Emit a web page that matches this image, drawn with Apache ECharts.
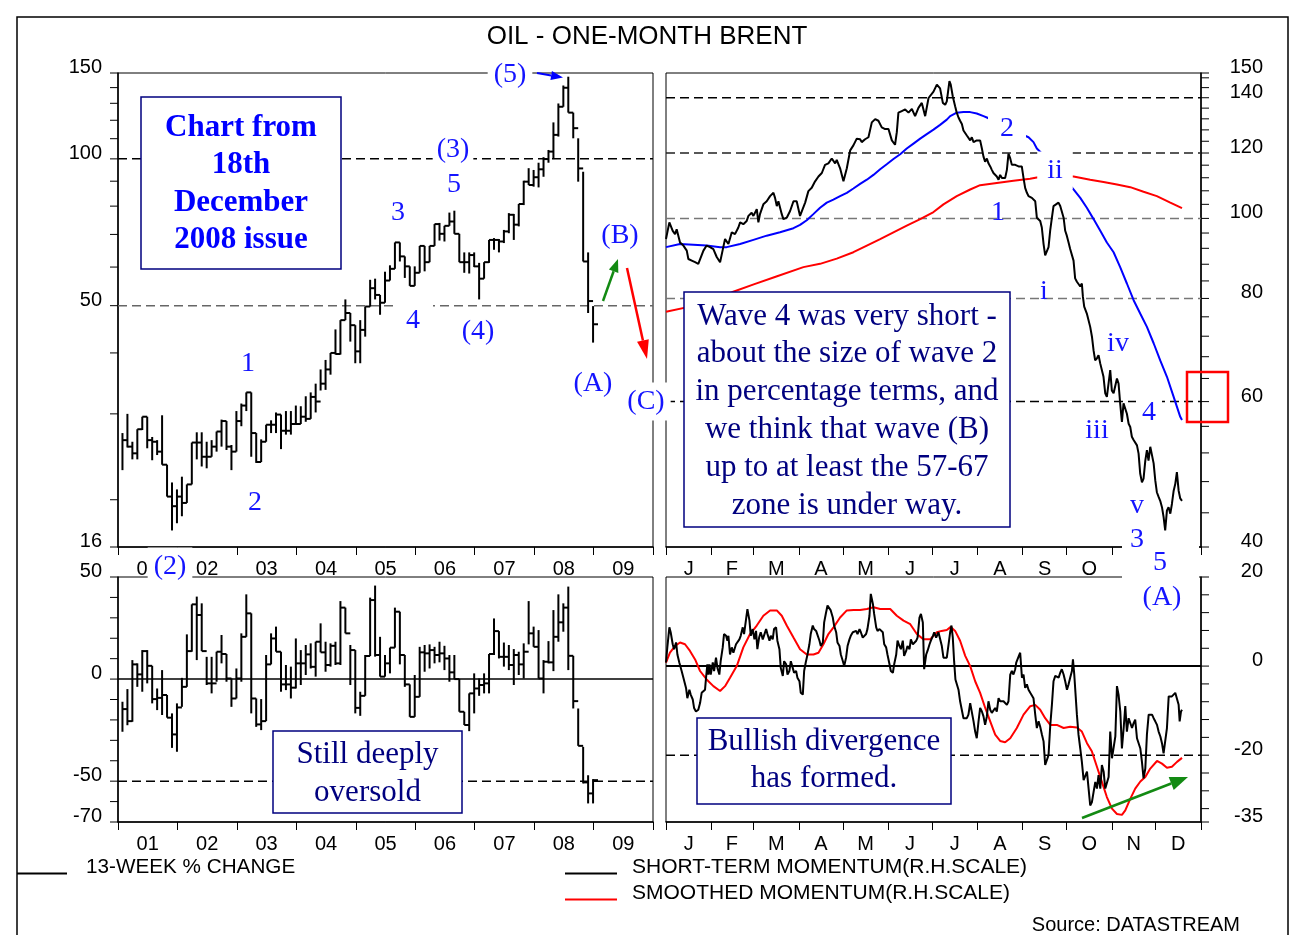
<!DOCTYPE html>
<html>
<head>
<meta charset="utf-8">
<script src="https://cdn.jsdelivr.net/npm/echarts@6.0.0/dist/echarts.min.js"></script>
<style>
html,body{margin:0;padding:0;background:#fff;}
#c{width:1297px;height:935px;}
</style>
</head>
<body>
<div id="c"></div>
<script>
// ---------------- DATA ----------------
const yearLabels = ['01','02','03','04','05','06','07','08','09'];
const yearTickPos = [0,12,24,36,48,60,72,84,96,108];
const yearLabelPos = [6,18,30,42,54,66,78,90,102];
const monthLabels = ['J','F','M','A','M','J','J','A','S','O','N','D'];
const monthTickPos = [0,31,60,91,121,152,182,213,244,274,305,335,366];
const monthLabelPos = [15.5,45,75.5,106,136.5,167,197.5,228.5,259,289.5,320,350.5];

// Monthly Brent bars, Jan 2001 - Dec 2008 (high, low, close)
const tlHigh = [27.4,30.0,26.3,27.9,29.6,29.6,26.9,26.5,29.8,23.6,21.7,21.0,
  22.3,21.5,26.2,27.5,27.5,26.3,26.5,27.6,29.2,29.0,25.9,30.4,
  31.5,33.2,33.2,27.4,26.6,28.5,29.1,30.2,29.9,30.4,30.4,31.2,
  31.1,32.6,33.2,34.6,37.0,38.7,40.0,44.7,46.7,51.5,48.3,45.6,
  46.7,49.8,56.5,56.8,52.6,58.7,60.5,67.4,67.4,63.1,60.2,60.2,
  66.3,66.3,66.3,73.5,73.9,72.9,77.6,78.3,70.2,64.3,64.3,64.3,
  61.2,61.4,68.2,68.8,68.5,71.5,77.4,77.1,80.8,90.2,95.7,94.9,
  98.2,100.8,104.3,118.8,129.9,141.4,147.4,124.4,110.2,94.1,64.3,49.9];
const tlLow = [23.0,25.6,24.2,24.2,27.8,25.5,24.1,24.7,23.6,20.3,17.3,17.9,
  18.5,19.7,21.5,24.2,23.4,23.2,24.5,25.1,25.7,25.3,23.0,25.1,
  28.3,30.4,24.5,23.8,23.9,26.3,27.4,27.4,25.4,27.2,27.2,28.5,
  28.6,28.9,29.3,30.2,33.5,33.6,36.1,39.7,39.7,46.7,42.2,38.1,
  38.1,43.2,49.8,51.5,47.9,50.7,56.3,59.5,61.6,57.0,54.9,54.9,
  58.4,58.8,61.4,66.3,68.0,67.7,72.9,70.2,61.4,58.4,58.2,60.0,
  51.5,56.8,61.2,65.1,64.3,67.2,70.4,68.2,72.7,80.4,88.4,87.7,
  87.4,91.9,98.2,99.9,111.1,127.9,124.4,110.2,89.8,61.6,48.3,42.0];
const tlClose = [26.5,25.7,24.9,27.9,29.6,26.5,26.3,25.1,23.6,20.3,19.4,20.3,
  19.7,21.5,26.2,26.2,24.5,24.5,25.7,27.6,29.0,25.7,25.1,29.0,
  31.2,33.2,27.4,23.9,26.3,28.5,28.5,29.9,27.7,27.7,28.6,28.6,
  29.6,29.3,32.5,31.8,34.6,37.0,40.0,39.8,46.7,48.3,45.6,40.3,
  44.6,49.8,54.3,52.6,50.7,56.3,59.5,67.4,63.1,60.2,54.9,58.4,
  66.3,61.4,66.3,73.5,70.2,72.9,74.4,70.2,61.4,61.4,63.5,60.2,
  56.8,61.4,68.2,68.2,67.7,71.0,76.8,73.3,80.8,89.8,88.4,91.7,
  95.2,99.9,103.5,112.0,127.9,139.9,124.4,115.6,95.6,61.6,51.1,45.8];

// 13-week % change, monthly bars (high, low, close)
const chgHigh = [-11.1,-4.9,9.3,7.7,14.2,14.2,6.5,-4.6,4.4,-7.8,-16.8,-11.9,
  0.6,21.9,36.6,40.4,37.1,10.9,10.9,13.4,21.6,12.3,0.3,5.2,
  22.4,41.5,32.2,-9.5,-9.8,11.8,22.4,25.7,13.4,6.9,6.1,19.9,
  14.2,16.7,17.5,18.3,27.3,18.3,17.5,18.3,38.2,35.0,16.7,14.2,
  -6.2,11.8,39.9,45.8,20.7,11.8,15.4,35.0,33.0,11.8,-2.6,2.0,
  15.8,16.7,17.0,15.8,18.3,16.3,11.8,11.8,0.0,-16.0,-7.0,2.8,
  0.3,2.8,12.3,29.7,23.5,17.9,16.7,14.7,13.4,17.5,38.2,25.7,
  24.0,9.3,18.6,33.8,41.5,37.1,45.3,11.4,-14.4,-33.2,-47.1,-49.0];
const chgLow = [-25.8,-22.6,-20.9,-3.8,-6.2,-2.1,-11.9,-15.2,-17.6,-18.9,-33.7,-35.6,
  -13.6,-3.8,13.4,9.3,13.7,-2.9,-7.0,-1.3,7.7,-1.3,-13.6,-9.5,
  -1.3,20.7,-16.8,-23.4,-25.0,-20.6,7.2,13.4,-6.2,-5.4,-9.5,-4.6,
  -2.9,2.0,5.2,1.2,13.1,3.6,6.1,6.9,6.9,22.4,-2.9,-16.8,
  -18.0,-8.2,11.3,11.0,1.2,1.2,2.8,15.4,7.2,-3.8,-18.5,-18.5,
  -8.7,3.6,5.2,7.7,8.2,4.4,-1.3,0.0,-16.0,-22.5,-25.5,-16.8,
  -8.2,-7.0,-7.0,11.8,10.1,6.1,4.4,-2.9,2.0,0.3,17.0,15.8,
  0.3,-7.0,7.7,3.9,18.3,23.2,4.4,-14.4,-32.7,-51.1,-60.9,-60.9];
const chgClose = [-14.7,-20.6,7.2,2.3,13.7,6.5,-9.8,-9.2,-7.8,-18.9,-27.1,-13.9,
  -3.8,13.7,36.6,31.4,13.7,-2.1,-2.1,13.4,12.3,0.3,-9.5,0.3,
  20.7,32.2,-9.5,-22.2,-20.6,7.2,19.9,13.4,-2.6,-2.6,-4.2,7.7,
  7.7,12.1,6.0,18.3,13.1,6.9,16.3,7.7,35.0,22.4,14.2,-14.1,
  -8.2,11.3,38.7,11.8,1.2,7.7,15.4,33.0,11.8,-2.6,-18.5,-8.7,
  13.1,12.6,14.2,11.8,12.6,10.1,3.3,0.0,-16.0,-22.5,-7.0,-4.6,
  -2.9,-2.1,12.3,23.5,10.9,10.9,6.9,11.8,7.2,13.4,22.4,15.8,
  0.3,8.5,8.2,20.7,27.8,35.0,11.4,-10.8,-32.7,-50.6,-56.0,-49.5];

// 2008 daily Brent (day of year, price)
const trDay = [0,2.3,4.6,6.2,7.3,9.6,11.9,14.2,15.3,17.6,19.9,22.1,23.3,25.6,27.8,30.1,32.4,34.7,37.0,39.2,40.4,42.7,45.0,47.2,49.5,50.7,52.9,55.2,56.4,58.6,59.8,62.1,63.2,64.3,66.6,68.9,71.2,73.5,74.6,75.8,76.9,79.2,80.3,82.6,84.9,87.2,89.4,91.7,92.9,95.2,97.4,99.7,102.0,104.3,106.6,108.8,111.1,113.4,115.7,116.8,119.1,121.4,122.5,123.7,126.0,128.2,130.5,132.8,133.9,136.2,138.5,140.8,143.1,145.3,147.6,149.9,152.2,154.5,156.7,157.9,159.0,161.3,163.6,165.9,168.2,170.4,172.7,175.0,177.3,179.6,
  180.7,183.0,185.3,187.5,189.4,191.0,192.1,193.9,194.8,196.2,197.8,198.9,200.1,201.2,202.4,203.5,204.7,205.8,206.9,208.1,209.2,210.4,211.5,212.6,213.8,214.9,216.1,217.2,218.3,219.5,220.6,221.8,222.9,224.0,225.2,226.3,227.5,228.6,229.8,230.9,232.0,233.2,234.3,235.5,236.6,238.9,241.2,242.3,243.4,244.6,245.7,246.9,248.0,250.3,252.6,253.7,254.9,256.0,257.1,258.3,259.4,260.6,261.7,262.8,264.0,265.1,266.3,268.5,269.7,270.8,272.0,273.1,274.2,275.4,276.5,277.7,278.8,279.9,281.1,282.2,283.4,284.5,285.2,286.1,287.9,289.1,290.2,291.4,292.5,293.6,294.8,295.9,297.1,298.2,299.3,300.5,301.6,302.8,303.9,305.0,306.2,307.3,308.5,309.6,310.7,311.9,313.0,314.2,315.3,316.5,317.6,318.7,319.9,322.2,323.3,324.4,325.6,326.7,327.9,329.0,330.1,331.3,332.4,333.6,334.7,335.8,337.0,338.1,339.3,340.4,341.5,342.7,343.8,345.0,346.1,347.3,348.4,349.5,350.7,351.8,353.0];
const trPrice = [94.4,98.9,96.6,95.7,97.0,93.5,92.7,91.4,89.3,88.9,88.5,88.1,88.1,91.4,92.7,92.3,91.8,89.8,88.5,92.3,94.4,93.1,96.2,95.7,97.5,98.9,98.4,99.3,100.7,101.6,100.7,102.6,98.9,101.2,104.0,104.9,106.4,107.4,105.9,103.5,104.9,101.2,99.8,100.2,102.1,104.9,104.9,100.7,101.2,104.5,107.9,108.9,110.9,112.4,113.5,116.1,116.6,118.2,116.6,117.7,115.0,110.9,110.4,115.0,120.9,122.6,124.9,124.7,123.7,124.7,125.4,130.7,131.9,131.3,128.9,128.3,128.3,124.3,122.8,127.2,134.3,134.9,135.5,134.3,135.7,133.0,136.1,138.0,133.0,139.9,
  140.5,142.4,145.2,143.7,138.0,137.3,138.6,146.6,145.2,140.5,136.7,134.3,132.5,131.3,130.1,127.8,127.2,126.0,126.6,124.3,125.4,123.7,123.2,124.3,124.9,124.3,121.5,118.8,117.1,118.2,116.6,115.6,114.5,113.5,114.0,112.4,111.4,112.9,111.9,112.4,111.9,114.5,119.8,118.2,116.1,116.1,115.6,116.1,115.6,111.9,108.9,107.4,106.4,105.9,104.9,100.2,100.2,99.3,97.5,93.1,90.2,90.2,92.3,96.6,100.2,103.5,104.0,104.5,103.5,103.0,100.2,96.6,95.3,93.5,91.8,91.4,88.9,84.6,83.8,83.4,82.7,83.4,80.4,78.2,76.7,76.7,73.9,71.9,69.2,67.3,67.7,68.3,66.7,66.4,64.3,61.4,60.8,61.1,65.5,61.9,61.4,61.4,64.0,63.1,59.7,56.7,59.7,59.4,58.0,56.4,55.9,54.4,53.9,53.1,51.9,49.1,47.9,48.4,50.9,52.4,50.9,52.9,52.9,50.5,48.2,46.6,46.0,45.5,44.7,43.5,41.9,44.3,44.7,43.9,45.1,46.8,47.7,49.3,46.8,45.8,45.5];

// Shorter moving average (blue)
const maFastDay = [0,9.6,18.7,27.8,37.0,41.5,50.7,59.8,68.9,78.0,87.2,91.7,96.3,100.8,105.4,110.0,114.5,119.1,123.7,128.2,132.8,137.4,141.9,146.5,151.0,155.6,160.2,164.7,169.3,173.9,178.4,183.0,187.5,192.1,194.4,198.9,203.5,208.1,212.6,217.2,219.5,226.3,233.2,240.0,248.0,251.4,253.7,260.6,267.4,274.2,278.8,283.4,287.9,292.5,297.1,301.6,306.2,310.7,315.3,319.9,324.4,329.0,333.6,338.1,342.7,347.3,351.8,353.0];
const maFast = [92.3,93.1,92.9,92.7,92.3,92.3,93.1,94.2,95.3,96.2,97.3,98.2,99.5,101.2,103.0,104.5,105.4,106.4,107.4,108.7,110.1,111.4,112.9,114.7,116.3,118.0,119.6,121.5,123.2,124.9,126.5,128.1,129.8,131.7,133.0,134.3,134.5,134.5,134.0,133.0,132.5,130.7,128.9,127.2,125.4,123.7,121.5,118.2,114.5,110.9,108.4,105.9,103.0,99.8,96.6,93.5,91.0,87.3,83.4,79.6,76.7,73.9,70.6,67.3,64.3,60.8,57.5,57.0];

// Longer moving average (red)
const maSlowDay = [0,18,30,46,60,75,94,105.4,116.8,128.2,137.4,146.5,155.6,164.7,173.9,183.0,189.8,198.9,208.1,214.9,226.3,237.7,249.1,253.7,262,270,278.8,290.2,299.3,308.5,317.6,326.7,335.8,345.0,353.0];
const maSlow = [77.1,78.3,79.3,81.5,83.2,85.0,87.3,88.1,89.4,91.0,92.7,94.4,96.2,98.0,99.8,101.8,104.0,106.4,108.4,109.7,110.4,111.1,111.7,112.1,112.4,112.5,112.4,111.4,110.7,109.9,109.1,107.7,106.4,104.5,102.9];

// Short-term momentum (black, lower right)
const momDay = [0.0,0.9,2.3,3.2,4.6,5.5,6.9,7.8,9.1,10.7,11.9,13.7,14.6,16.0,16.9,18.3,19.2,20.5,22.1,23.3,24.4,25.6,26.7,27.4,28.3,29.0,29.7,30.6,32.0,32.9,34.2,35.2,36.5,37.4,38.8,39.7,41.1,42.0,42.7,43.8,45.0,46.1,47.9,48.8,50.2,51.1,52.5,53.4,54.8,55.7,57.1,58.0,59.3,60.5,61.6,62.5,63.7,64.8,66.2,67.1,68.5,69.4,70.8,71.7,73.0,73.9,75.3,76.2,77.6,78.5,79.9,80.8,82.2,83.1,84.4,85.4,86.7,87.6,89.0,89.9,91.3,92.2,93.6,94.5,95.6,96.8,98.1,99.0,100.4,101.3,102.7,103.6,105.0,105.9,107.3,108.2,109.3,110.5,111.8,112.7,114.1,115.0,116.4,117.3,118.7,119.6,121.0,121.9,123.2,124.2,125.5,126.4,127.8,128.7,130.1,131.0,132.4,133.3,134.6,135.6,136.9,137.8,139.2,140.1,141.5,142.4,143.8,144.7,146.1,147.0,148.3,149.3,150.6,151.5,152.9,153.8,155.2,156.1,157.5,158.4,159.7,160.7,162.0,162.9,164.3,165.2,166.6,167.5,168.9,169.8,171.2,172.1,173.4,174.4,175.7,176.6,178.0,178.9,180.3,181.2,182.6,183.5,
  184.8,186.4,187.5,188.7,189.8,191.0,192.1,193.3,194.4,195.3,196.2,197.1,198.0,199.0,200.1,201.2,202.4,203.5,204.7,205.8,206.9,208.1,209.2,210.4,211.5,212.6,213.8,214.9,216.1,217.2,218.3,219.5,220.6,221.8,222.9,224.1,225.2,226.3,227.5,228.6,229.8,230.9,232.0,233.2,234.3,235.5,236.6,237.7,238.9,239.6,240.5,241.4,242.3,243.5,244.6,245.7,246.9,248.0,249.2,250.3,251.4,252.6,253.7,254.9,256.0,257.2,258.3,259.4,260.6,261.7,262.9,264.0,265.1,266.3,267.4,268.6,269.7,270.8,272.0,273.1,274.3,275.4,276.5,277.7,278.4,279.3,280.2,281.1,282.2,283.4,284.5,285.7,286.8,288.0,289.1,290.2,291.4,292.5,293.7,294.8,295.9,297.1,298.2,299.4,300.5,301.6,302.8,303.9,305.1,306.2,307.4,308.5,309.6,310.8,311.9,313.1,314.2,315.3,316.5,317.6,318.8,319.9,321.0,322.2,323.3,324.5,325.6,326.7,327.9,329.0,330.2,331.3,332.5,333.6,334.7,335.9,337.0,338.2,339.3,340.4,341.6,342.7,343.9,345.0,346.1,347.3,348.4,349.6,350.7,351.4,352.3,353.0];
const mom = [0.8,4.2,8.7,7.6,4.9,3.8,5.3,2.6,0.8,-1.1,-2.6,-4.9,-7.2,-5.3,-6.4,-7.5,-9.4,-10.2,-9.8,-8.3,-6.0,-5.6,-5.3,-2.6,0.4,-1.9,0.4,-1.9,0.8,-1.1,1.9,-0.4,-1.9,1.1,4.2,7.2,6.8,5.7,6.8,2.6,4.2,3.0,4.9,4.5,6.0,6.8,8.7,7.2,10.6,12.8,10.2,6.8,8.3,6.0,7.9,3.8,6.4,7.6,6.0,6.4,8.3,7.2,5.7,6.8,6.0,8.3,8.7,5.7,3.8,-0.4,-2.2,1.1,0.4,-1.9,-1.1,1.1,-0.4,-1.5,-1.1,-2.6,-3.4,-6.0,-6.4,-1.1,0.8,2.6,4.9,7.2,9.1,8.3,7.9,7.6,5.7,4.5,5.3,9.8,11.7,13.6,13.2,12.5,10.9,9.1,7.6,5.3,4.5,2.6,1.1,0.0,1.9,4.5,6.0,6.8,7.6,7.2,7.9,7.2,8.3,7.6,6.4,6.0,7.2,8.3,11.3,16.2,14.0,11.7,8.7,7.9,8.3,8.3,7.6,4.9,4.2,2.6,0.4,-1.1,-1.5,0.4,2.6,5.7,4.5,3.8,5.7,2.3,3.4,4.5,3.8,6.0,4.9,4.5,5.7,6.4,10.9,11.7,9.8,-0.7,2.6,3.4,4.9,5.7,6.8,7.6,
  6.4,7.6,7.2,4.5,1.9,1.5,1.9,4.9,7.6,9.1,6.4,1.1,-3.0,-3.4,-5.3,-7.9,-8.3,-11.7,-11.8,-11.7,-10.9,-8.3,-8.7,-12.4,-14.7,-16.2,-12.4,-9.4,-10.2,-11.3,-13.2,-11.3,-7.9,-9.8,-10.5,-10.2,-9.4,-10.2,-7.2,-7.9,-7.5,-7.9,-7.5,-8.7,-7.9,-1.9,-1.1,-1.9,-0.7,0.8,1.0,2.3,3.0,-2.6,-1.9,-4.9,-4.1,-5.3,-6.0,-5.6,-7.2,-10.9,-13.9,-12.4,-13.6,-15.4,-16.9,-22.2,-22.6,-20.0,-13.2,-8.7,-3.4,-2.2,-1.9,-2.6,-1.5,-0.7,-1.9,-3.4,-5.3,-4.1,-2.6,-1.1,1.5,-1.9,-6.4,-10.9,-15.4,-18.5,-21.5,-25.6,-26.0,-23.7,-27.5,-31.3,-30.5,-28.3,-26.0,-27.5,-24.5,-27.5,-22.2,-23.7,-27.5,-27.1,-24.9,-14.7,-20.7,-20.3,-15.8,-4.5,-6.4,-10.2,-18.5,-13.9,-9.0,-14.7,-11.7,-12.0,-13.9,-12.8,-12.0,-16.2,-15.8,-18.5,-21.5,-25.2,-23.0,-15.4,-10.9,-11.3,-10.9,-11.7,-12.4,-13.2,-14.7,-15.8,-17.3,-19.6,-20.0,-13.9,-6.8,-6.4,-6.8,-6.4,-6.0,-5.6,-8.7,-12.4,-10.2,-9.8];

// Smoothed momentum (red, lower right)
const smoothDay = [0.0,2.7,6.2,9.6,13.0,16.4,19.9,23.3,27.8,32.4,37.0,40.4,43.8,48.4,52.9,57.5,62.1,66.6,71.2,75.8,79.2,82.6,87.2,91.7,96.3,100.9,104.3,107.7,111.1,114.6,119.1,123.7,128.3,132.8,137.4,142.0,146.5,153.4,157.9,162.5,167.1,171.6,176.2,180.7,185.3,188.5,192.1,194.8,197.8,201.2,204.7,208.1,211.5,214.9,218.4,221.8,225.2,228.6,232.0,235.5,240.0,244.6,249.2,252.6,256.0,259.4,262.9,267.4,272.0,276.5,281.1,284.5,288.0,291.4,294.8,298.2,301.6,305.1,308.5,311.9,314.2,317.6,321.0,324.5,327.9,331.3,335.9,339.3,342.7,346.1,349.6,353.0];
const smooth = [0.8,3.0,4.5,5.3,4.9,3.4,1.5,-1.1,-3.0,-4.5,-5.6,-4.5,-2.6,0.0,4.2,7.2,9.1,11.3,12.5,12.5,11.3,9.1,6.4,3.8,2.6,2.6,3.0,4.9,7.2,8.7,10.9,12.5,12.6,12.6,12.8,13.2,12.8,12.8,11.3,10.2,9.4,7.2,6.0,6.0,7.6,7.9,8.1,8.8,7.9,5.7,2.3,0.0,-3.4,-6.0,-9.4,-12.4,-15.4,-16.8,-17.1,-16.2,-13.9,-10.9,-9.0,-8.7,-9.8,-11.7,-13.2,-13.2,-13.9,-13.6,-13.8,-14.7,-17.3,-19.2,-22.6,-26.0,-29.4,-32.0,-33.2,-33.4,-32.4,-29.8,-27.5,-25.9,-24.9,-23.0,-21.3,-21.9,-22.8,-22.6,-21.5,-20.6];

// Axis tick / label values
const tlLogTicks = [16,20,30,40,50,60,70,80,90,100,110,120,130,140,150];
const tlLogLabels = [16,50,100,150];
const trLogTicks = [40,44,48,52,56,60,64,68,72,76,80,84,88,92,96,100,104,108,112,116,120,124,128,132,136,140,144,148,150];
const trLogLabels = [40,60,80,100,120,140,150];
const blTicks = [50,40,30,20,10,0,-10,-20,-30,-40,-50,-60,-70];
const blLabels = [50,0,-50,-70];
const brTicks = [20,16,12,8,4,0,-4,-8,-12,-16,-20,-24,-28,-32,-35];
const brLabels = [20,0,-20,-35];

// ---------------- CHART ----------------
const SANS = '"Liberation Sans", Arial, sans-serif';
const SERIF = '"Liberation Serif", "Times New Roman", serif';
const WAVE = '#1414ff';
const NAVY = '#00007f';

const chart = echarts.init(document.getElementById('c'), null, {renderer: 'canvas'});

function pickLabel(list, pos, v) {
  for (let i = 0; i < pos.length; i++) if (Math.abs(pos[i] - v) < 0.01) return list[i];
  return '';
}
function xAxisYears(gi) {
  return {
    gridIndex: gi, type: 'value', min: 0, max: 108,
    axisLine: {show: true, onZero: false, lineStyle: {color: '#000', width: 1.5}},
    axisTick: {show: true, customValues: yearTickPos, length: 8, lineStyle: {color: '#000', width: 1}},
    axisLabel: {show: true, customValues: yearLabelPos, formatter: v => pickLabel(yearLabels, yearLabelPos, v),
      margin: 12, color: '#000', fontSize: 20, fontFamily: SANS},
    splitLine: {show: false}
  };
}
function xAxisMonths(gi) {
  return {
    gridIndex: gi, type: 'value', min: 0, max: 366,
    axisLine: {show: true, onZero: false, lineStyle: {color: '#000', width: 1.5}},
    axisTick: {show: true, customValues: monthTickPos, length: 8, lineStyle: {color: '#000', width: 1}},
    axisLabel: {show: true, customValues: monthLabelPos, formatter: v => pickLabel(monthLabels, monthLabelPos, v),
      margin: 12, color: '#000', fontSize: 20, fontFamily: SANS},
    splitLine: {show: false}
  };
}

function hlcItem(params, api) {
  const x = api.value(0);
  const pH = api.coord([x, api.value(1)]);
  const pL = api.coord([x, api.value(2)]);
  const pC = api.coord([x, api.value(3)]);
  const pN = api.coord([x + 1, api.value(3)]);
  const st = {stroke: '#000', lineWidth: 2};
  return {type: 'group', children: [
    {type: 'line', shape: {x1: pH[0], y1: pH[1], x2: pL[0], y2: pL[1]}, style: st},
    {type: 'line', shape: {x1: pC[0], y1: pC[1], x2: pN[0], y2: pN[1]}, style: st}
  ]};
}
function refLine(xi, yi, x0, x1, v, color, width, dash) {
  return {type: 'line', xAxisIndex: xi, yAxisIndex: yi, data: [[x0, v], [x1, v]], symbol: 'none',
    silent: true, z: 1, lineStyle: {color: color, width: width, type: dash}};
}
const DASH = [9, 5];
function yAxisPlain(gi, type, min, max, pos) {
  return {gridIndex: gi, type: type, min: min, max: max, position: pos,
    axisLine: {show: true, onZero: false, lineStyle: {color: '#000', width: 1.5}},
    axisTick: {show: false}, axisLabel: {show: false}, splitLine: {show: false}};
}

const tlData = tlHigh.map((h, i) => [i + 0.9, h, tlLow[i], tlClose[i]]);
const blData = chgHigh.map((h, i) => [i + 0.9, h, chgLow[i], chgClose[i]]);

const option = {
  animation: false,
  backgroundColor: '#fff',
  textStyle: {fontFamily: SANS},
  grid: [
    {left: 118, top: 73, width: 535, height: 474},
    {left: 666, top: 73, width: 535, height: 474},
    {left: 118, top: 577, width: 535, height: 245},
    {left: 666, top: 577, width: 535, height: 245}
  ].map(g => Object.assign({show: true, borderColor: '#000', borderWidth: 1, backgroundColor: 'rgba(0,0,0,0)'}, g)),
  xAxis: [xAxisYears(0), xAxisMonths(1), xAxisYears(2), xAxisMonths(3)],
  yAxis: [
    Object.assign(yAxisPlain(0, 'log', 16, 150, 'left'), {logBase: 10}),
    Object.assign(yAxisPlain(1, 'log', 40, 150, 'right'), {logBase: 10}),
    yAxisPlain(2, 'value', -70, 50, 'left'),
    yAxisPlain(3, 'value', -35, 20, 'right')
  ],
  series: [
    refLine(0, 0, 0, 108, 100, '#000', 1.5, DASH),
    refLine(0, 0, 0, 108, 50, '#666', 1.5, DASH),
    refLine(1, 1, 0, 366, 140, '#000', 1.5, DASH),
    refLine(1, 1, 0, 366, 120, '#222', 1.5, DASH),
    refLine(1, 1, 0, 366, 100, '#777', 1.5, DASH),
    refLine(1, 1, 0, 366, 80, '#777', 1.5, DASH),
    refLine(1, 1, 0, 366, 60, '#000', 1.5, DASH),
    refLine(2, 2, 0, 108, 0, '#000', 1.5, 'solid'),
    refLine(2, 2, 0, 108, -50, '#000', 1.5, DASH),
    refLine(3, 3, 0, 366, 0, '#000', 2, 'solid'),
    refLine(3, 3, 0, 366, -20, '#000', 1.5, DASH),
    {type: 'custom', name: 'price', xAxisIndex: 0, yAxisIndex: 0, data: tlData, renderItem: hlcItem,
      encode: {x: 0, y: [1, 2, 3]}, z: 3, silent: true},
    {type: 'custom', name: '13-WEEK % CHANGE', xAxisIndex: 2, yAxisIndex: 2, data: blData, renderItem: hlcItem,
      encode: {x: 0, y: [1, 2, 3]}, z: 3, silent: true},
    {type: 'line', name: 'slow', xAxisIndex: 1, yAxisIndex: 1, data: maSlowDay.map((d, i) => [d, maSlow[i]]),
      symbol: 'none', lineStyle: {color: '#ff0000', width: 2}, z: 3, silent: true},
    {type: 'line', name: 'fast', xAxisIndex: 1, yAxisIndex: 1, data: maFastDay.map((d, i) => [d, maFast[i]]),
      symbol: 'none', lineStyle: {color: '#0000ff', width: 2}, z: 3, silent: true},
    {type: 'line', name: 'brent', xAxisIndex: 1, yAxisIndex: 1, data: trDay.map((d, i) => [d, trPrice[i]]),
      symbol: 'none', lineStyle: {color: '#000', width: 2}, z: 4, silent: true},
    {type: 'line', name: 'SMOOTHED MOMENTUM(R.H.SCALE)', xAxisIndex: 3, yAxisIndex: 3, data: smoothDay.map((d, i) => [d, smooth[i]]),
      symbol: 'none', lineStyle: {color: '#ff0000', width: 2}, z: 3, silent: true},
    {type: 'line', name: 'SHORT-TERM MOMENTUM(R.H.SCALE)', xAxisIndex: 3, yAxisIndex: 3, data: momDay.map((d, i) => [d, mom[i]]),
      symbol: 'none', lineStyle: {color: '#000', width: 2}, z: 4, silent: true}
  ]
};
chart.setOption(option);

// ---------------- ANNOTATIONS ----------------
const gfx = [];
function txt(t, x, y, font, fill, align, extra) {
  const st = Object.assign({text: t, font: font, fill: fill, align: align || 'center', verticalAlign: 'middle'}, extra || {});
  return {type: 'text', x: x, y: y, z: 110, silent: true, style: st};
}
// y-axis ticks and labels positioned through each axis's own scale
function yTicks(xi, yi, xEdge, vals, dir) {
  vals.forEach(v => {
    const p = chart.convertToPixel({xAxisIndex: xi, yAxisIndex: yi}, [xEdge, v]);
    gfx.push({type: 'line', z: 5, silent: true, shape: {x1: p[0], y1: p[1], x2: p[0] + dir * 8, y2: p[1]}, style: {stroke: '#000', lineWidth: 1}});
  });
}
function yLabels(xi, yi, xEdge, vals, dx) {
  vals.forEach(v => {
    const p = chart.convertToPixel({xAxisIndex: xi, yAxisIndex: yi}, [xEdge, v]);
    gfx.push(txt(String(v), p[0] + dx, p[1] - 5.5, '20px ' + SANS, '#000', 'right'));
  });
}
yTicks(0, 0, 0, tlLogTicks, -1);   yLabels(0, 0, 0, tlLogLabels, -16);
yTicks(1, 1, 366, trLogTicks, 1);  yLabels(1, 1, 366, trLogLabels, 62);
yTicks(2, 2, 0, blTicks, -1);      yLabels(2, 2, 0, blLabels, -16);
yTicks(3, 3, 366, brTicks, 1);     yLabels(3, 3, 366, brLabels, 62);

// outer frame and title
gfx.push({type: 'rect', z: 0, silent: true, shape: {x: 17, y: 17, width: 1271, height: 940}, style: {fill: 'none', stroke: '#000', lineWidth: 1.5}});
gfx.push(txt('OIL - ONE-MONTH BRENT', 647, 37, '26px ' + SANS, '#000', 'center'));

// white cover behind bottom labels of right panels
gfx.push({type: 'rect', z: 100, silent: true, shape: {x: 1122, y: 541, width: 77, height: 71}, style: {fill: '#fff'}});

// text boxes
function box(x, y, w, h, cx, cy, t, font, color, lh) {
  gfx.push({type: 'rect', z: 105, silent: true, shape: {x: x, y: y, width: w, height: h}, style: {fill: '#fff', stroke: NAVY, lineWidth: 1.5}});
  gfx.push({type: 'text', z: 106, silent: true, x: cx, y: cy, style: {text: t, font: font, fill: color, align: 'center', verticalAlign: 'middle', lineHeight: lh}});
}
box(141, 97, 200, 172, 241, 184, 'Chart from\n18th\nDecember\n2008 issue', 'bold 31px ' + SERIF, '#0000ff', 37.5);
box(684, 292, 326, 235, 847, 411, 'Wave 4 was very short -\nabout the size of wave 2\nin percentage terms, and\nwe think that wave (B)\nup to at least the 57-67\nzone is under way.', '31px ' + SERIF, NAVY, 37.8);
box(273, 731, 189, 82, 367.5, 774, 'Still deeply\noversold', '31px ' + SERIF, NAVY, 38);
box(697, 718, 254, 86, 824, 760.5, 'Bullish divergence\nhas formed.', '31px ' + SERIF, NAVY, 37);

// wave labels
function wave(t, x, y, bg, pad) {
  const extra = {lineHeight: 30};
  if (bg) { extra.backgroundColor = '#fff'; extra.padding = pad || [3, 6]; }
  gfx.push(txt(t, x, y + 2.5, '28px ' + SERIF, WAVE, 'center', extra));
}
wave('(5)', 510, 72, true, [4, 6]);
wave('(3)', 453, 147, true, [2, 4]);
wave('5', 454, 182);
wave('3', 398, 210);
wave('4', 413, 318, true, [3, 13]);
wave('(4)', 478, 329);
wave('1', 248, 361);
wave('2', 255, 500);
wave('(2)', 170, 564, true, [4, 6]);
wave('(B)', 620, 233);
wave('(A)', 593, 381);
wave('(C)', 646, 399, true, [4, 6]);
wave('2', 1007, 126, true, [4, 12]);
wave('ii', 1055, 168, true, [4, 10]);
wave('1', 998, 210);
wave('i', 1044, 289);
wave('iv', 1118, 341);
wave('iii', 1097, 428);
wave('4', 1149, 410, true, [1, 6]);
wave('v', 1137, 503);
wave('3', 1137, 537);
wave('5', 1160, 560);
wave('(A)', 1162, 595);

// arrows
function arrow(x1, y1, x2, y2, color, w, hl, hw) {
  const dx = x2 - x1, dy = y2 - y1, L = Math.hypot(dx, dy), ux = dx / L, uy = dy / L;
  const bx = x2 - ux * hl, by = y2 - uy * hl, px = -uy, py = ux;
  gfx.push({type: 'line', z: 120, silent: true, shape: {x1: x1, y1: y1, x2: bx, y2: by}, style: {stroke: color, lineWidth: w}});
  gfx.push({type: 'polygon', z: 120, silent: true, shape: {points: [[x2, y2], [bx + px * hw / 2, by + py * hw / 2], [bx - px * hw / 2, by - py * hw / 2]]}, style: {fill: color}});
}
arrow(537, 73, 563, 77.5, '#0000ff', 2, 12, 9);
arrow(603, 301, 618, 259, '#138a13', 2.5, 13, 10);
arrow(627, 268, 647, 359, '#ff0000', 2.5, 19, 12);
arrow(1082, 818, 1188, 777, '#138a13', 2.5, 18, 14);

// red target rectangle
gfx.push({type: 'rect', z: 120, silent: true, shape: {x: 1187, y: 372, width: 41, height: 50}, style: {fill: 'none', stroke: '#ff0000', lineWidth: 2.5}});

// legend
gfx.push({type: 'line', z: 110, silent: true, shape: {x1: 17, y1: 873.5, x2: 67, y2: 873.5}, style: {stroke: '#000', lineWidth: 2}});
gfx.push(txt('13-WEEK % CHANGE', 86, 867, '20.7px ' + SANS, '#000', 'left'));
gfx.push({type: 'line', z: 110, silent: true, shape: {x1: 565, y1: 873.5, x2: 617, y2: 873.5}, style: {stroke: '#000', lineWidth: 2}});
gfx.push(txt('SHORT-TERM MOMENTUM(R.H.SCALE)', 632, 867, '21px ' + SANS, '#000', 'left'));
gfx.push({type: 'line', z: 110, silent: true, shape: {x1: 565, y1: 899.5, x2: 617, y2: 899.5}, style: {stroke: '#ff0000', lineWidth: 2}});
gfx.push(txt('SMOOTHED MOMENTUM(R.H.SCALE)', 632, 893, '21px ' + SANS, '#000', 'left'));
gfx.push(txt('Source: DATASTREAM', 1240, 925, '20px ' + SANS, '#000', 'right'));

chart.setOption({graphic: gfx});
</script>
</body>
</html>
